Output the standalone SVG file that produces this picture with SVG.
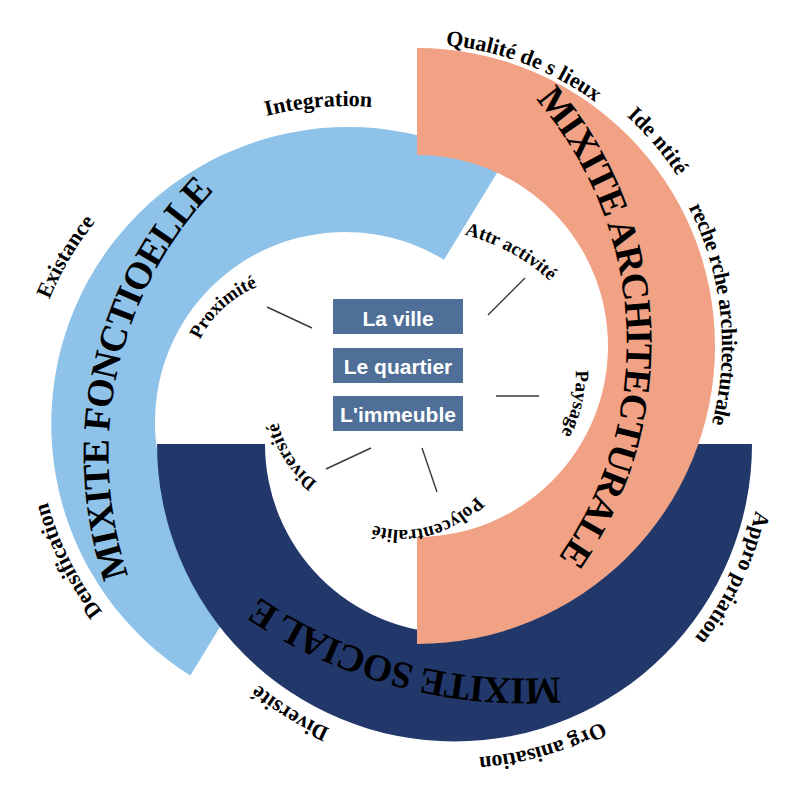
<svg xmlns="http://www.w3.org/2000/svg" xmlns:xlink="http://www.w3.org/1999/xlink" width="797" height="808" viewBox="0 0 797 808">
<style>
.title{font-family:"Liberation Serif","Times New Roman",serif;font-weight:bold;font-size:38px;letter-spacing:-1px;fill:#000}
.outer{font-family:"Liberation Serif","Times New Roman",serif;font-weight:bold;font-size:22px;fill:#000}
.inner{font-family:"Liberation Serif","Times New Roman",serif;font-weight:bold;font-size:19px;fill:#000}
.box{fill:#506F98}
.boxt{font-family:"Liberation Sans",Arial,sans-serif;font-weight:bold;font-size:21px;fill:#fff;text-anchor:middle}
.con{stroke:#3A3A3A;stroke-width:1.4;fill:none}
</style>
<defs>
<path id="pBlue" d="M151.6,630.1 A381.5,381.5 0 0 1 257.7,151.3"/>
<path id="pSalmon" d="M504.1,67.3 A371.5,371.5 0 0 1 530.7,592.1"/>
<path id="pNavy" d="M648.3,662.2 A473.5,473.5 0 0 1 190.8,540.4"/>
<path id="pInteg" d="M164.7,162.5 A316,316 0 0 1 479.6,136.1"/>
<path id="pExist" d="M25.0,418.6 A320,320 0 0 1 187.9,143.2"/>
<path id="pDens" d="M175.4,679.1 A308,308 0 0 1 37.6,403.7"/>
<path id="pQual" d="M342.9,53.2 A302,302 0 0 1 666.8,176.2"/>
<path id="pIdent" d="M546.5,63.2 A311,311 0 0 1 716.8,263.4"/>
<path id="pRech" d="M628.1,125.9 A305,305 0 0 1 670.5,515.7"/>
<path id="pAppro" d="M762.1,420.9 A308,308 0 0 1 628.6,698.4"/>
<path id="pOrg" d="M681.3,661.7 A314,314 0 0 1 379.6,748.8"/>
<path id="pDivO" d="M419.8,753.0 A311,311 0 0 1 195.7,615.6"/>
<path id="pProx" d="M190.85,412.89 A110,110 0 0 1 331.1,283.94"/>
<path id="pAttr" d="M374.8,232.3 A200,200 0 0 1 600.8,355.0"/>
<path id="pPays" d="M540.9,297.9 A110,110 0 0 1 498.1,483.6"/>
<path id="pPoly" d="M497.0,457.0 A97,97 0 0 1 335.3,502.4"/>
<path id="pDivI" d="M381.7,500.6 A100,100 0 0 1 286.4,355.95"/>
</defs>

<g id="band-fonctionnelle">
<path d="M190.3,675.5 A297,297 0 0 1 499.7,168.5 L444.0,259.8 A190,190 0 0 0 246.0,584.2 Z" fill="#8EC2E9"/>
</g>
<g id="band-sociale">
<path d="M752,444 A297.5,297.5 0 0 1 157,444 L265,444 A189.5,189.5 0 0 0 644,444 Z" fill="#22386B"/>
</g>
<g id="band-architecturale">
<path d="M417,48 A298,298 0 0 1 417,644 L417,537 A191,191 0 0 0 417,155 Z" fill="#F1A284"/>
</g>

<g id="titles">
<text class="title" text-anchor="middle"><textPath xlink:href="#pBlue" href="#pBlue" startOffset="50%">MIXITE FONCTIOELLE</textPath></text>
<text class="title" text-anchor="middle"><textPath xlink:href="#pSalmon" href="#pSalmon" startOffset="50%">MIXITE ARCHITECTURALE</textPath></text>
<text class="title" text-anchor="middle"><textPath xlink:href="#pNavy" href="#pNavy" startOffset="50%">MIXITE SOCIAL E</textPath></text>
</g>

<g id="outer-labels">
<text class="outer" text-anchor="middle"><textPath href="#pInteg" startOffset="50%">Integration</textPath></text>
<text class="outer" text-anchor="middle"><textPath href="#pExist" startOffset="50%">Existance</textPath></text>
<text class="outer" text-anchor="middle"><textPath href="#pDens" startOffset="50%">Densification</textPath></text>
<text class="outer" text-anchor="middle"><textPath href="#pQual" startOffset="50%">Qualité de s lieux</textPath></text>
<text class="outer" text-anchor="middle"><textPath href="#pIdent" startOffset="50%">Ide ntité</textPath></text>
<text class="outer" text-anchor="middle" letter-spacing="-0.5"><textPath href="#pRech" startOffset="50%">reche rche architecturale</textPath></text>
<text class="outer" text-anchor="middle"><textPath href="#pAppro" startOffset="50%">Appro priation</textPath></text>
<text class="outer" text-anchor="middle"><textPath href="#pOrg" startOffset="50%">Org anisation</textPath></text>
<text class="outer" text-anchor="middle"><textPath href="#pDivO" startOffset="50%">Diversité</textPath></text>
</g>

<g id="inner-labels">
<text class="inner" text-anchor="middle"><textPath href="#pProx" startOffset="50%">Proximité</textPath></text>
<text class="inner" text-anchor="middle"><textPath href="#pAttr" startOffset="50%">Attr activité</textPath></text>
<text class="inner" text-anchor="middle"><textPath href="#pPays" startOffset="50%">Paysage</textPath></text>
<text class="inner" text-anchor="middle"><textPath href="#pPoly" startOffset="50%">Polycentralité</textPath></text>
<text class="inner" text-anchor="middle"><textPath href="#pDivI" startOffset="50%">Diversité</textPath></text>
</g>

<g id="connectors">
<line class="con" x1="267" y1="307" x2="312" y2="328"/>
<line class="con" x1="525" y1="278" x2="488" y2="315"/>
<line class="con" x1="539" y1="396" x2="496" y2="396"/>
<line class="con" x1="437" y1="492" x2="422" y2="448"/>
<line class="con" x1="326" y1="469" x2="371" y2="448"/>
</g>

<g id="node-ville">
<rect class="box" x="333" y="299" width="130" height="35"/>
<text class="boxt" x="398" y="325.5">La ville</text>
</g>
<g id="node-quartier">
<rect class="box" x="333" y="348" width="130" height="35"/>
<text class="boxt" x="398" y="373.5">Le quartier</text>
</g>
<g id="node-immeuble">
<rect class="box" x="333" y="396" width="130" height="35"/>
<text class="boxt" x="398" y="421.5">L'immeuble</text>
</g>
</svg>
